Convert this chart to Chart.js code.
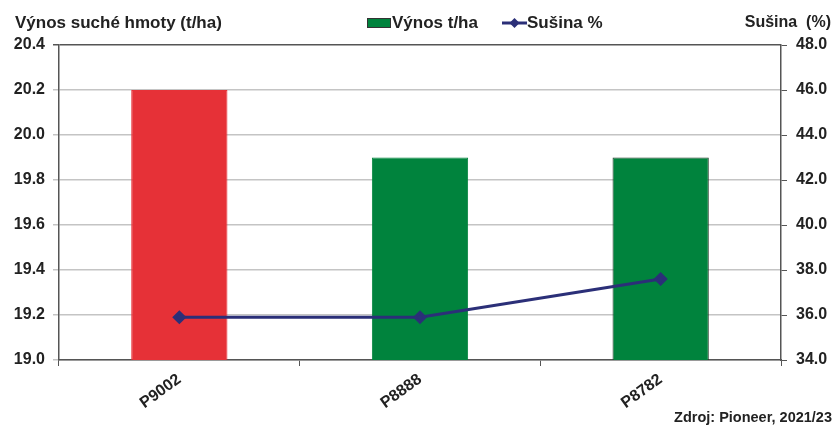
<!DOCTYPE html>
<html>
<head>
<meta charset="utf-8">
<script src="https://cdn.jsdelivr.net/npm/chart.js@4.4.0/dist/chart.umd.min.js"></script>
<style>
  html, body { margin: 0; padding: 0; background: #fff; }
  #wrap { width: 835px; height: 427px; }
</style>
</head>
<body>
<div id="wrap"><canvas id="chartOne" width="835" height="427"></canvas></div>
<script>
const hybrids = ['P9002', 'P8888', 'P8782'];
const yieldValues = [20.2, 19.9, 19.9];
const dryMatter = [35.9, 35.9, 37.6];
const barColors = ['#E63137', '#00833D', '#00833D'];
const barBorders = ['#E63137', '#00833D', '#1f3a26'];

const FONT = 'Liberation Sans, Arial, sans-serif';
const TEXT = '#222222';

// titles, legend and source line
const extras = {
    id: 'extras',
    afterDraw(chart) {
        const c = chart.ctx;
        c.save();
        c.fillStyle = TEXT;
        c.textBaseline = 'middle';
        c.font = 'bold 17px ' + FONT;
        c.textAlign = 'left';
        c.fillText('Výnos suché hmoty (t/ha)', 15, 23);
        c.textAlign = 'right';
        c.font = 'bold 16px ' + FONT;
        c.fillText('Sušina  (%)', 831, 23);

        // legend
        c.fillStyle = '#00833D';
        c.fillRect(367, 18, 24, 10);
        c.strokeStyle = '#333';
        c.lineWidth = 1;
        c.strokeRect(367.5, 18.5, 23, 9);
        c.fillStyle = TEXT;
        c.textAlign = 'left';
        c.font = 'bold 17px ' + FONT;
        c.fillText('Výnos t/ha', 392, 23);

        c.strokeStyle = '#2B2F78';
        c.lineWidth = 3;
        c.beginPath();
        c.moveTo(502, 23);
        c.lineTo(527, 23);
        c.stroke();
        c.fillStyle = '#2B2F78';
        c.beginPath();
        c.moveTo(514.5, 18);
        c.lineTo(519.5, 23);
        c.lineTo(514.5, 28);
        c.lineTo(509.5, 23);
        c.closePath();
        c.fill();
        c.fillStyle = TEXT;
        c.fillText('Sušina %', 527, 23);

        c.font = 'bold 14.5px ' + FONT;
        c.textAlign = 'right';
        c.fillText('Zdroj: Pioneer, 2021/23', 832, 418);
        c.restore();
    }
};

new Chart(document.getElementById('chartOne').getContext('2d'), {
    data: {
        labels: hybrids,
        datasets: [{
            type: 'line',
            label: 'Sušina %',
            data: dryMatter,
            yAxisID: 'y2',
            borderColor: '#2B2F78',
            backgroundColor: '#2B2F78',
            borderWidth: 3,
            pointStyle: 'rectRot',
            pointRadius: 5,
            order: 0
        }, {
            type: 'bar',
            label: 'Výnos t/ha',
            data: yieldValues,
            yAxisID: 'y',
            backgroundColor: barColors,
            borderColor: barBorders,
            borderWidth: 1,
            barPercentage: 0.8,
            categoryPercentage: 0.5,
            order: 1
        }]
    },
    options: {
        responsive: false,
        animation: false,
        layout: { padding: { top: 45, left: 0, right: 0, bottom: 0 } },
        plugins: {
            legend: { display: false },
            tooltip: { enabled: false }
        },
        scales: {
            x: {
                offset: true,
                afterFit: (s) => { s.height = 67; },
                grid: { drawOnChartArea: false, tickLength: 6, color: '#555', offset: true },
                border: { color: '#555', width: 1.5 },
                ticks: {
                    minRotation: 36, maxRotation: 36, padding: 4,
                    color: TEXT, font: { family: FONT, size: 16, weight: 'bold' }
                }
            },
            y: {
                position: 'left',
                min: 19.0, max: 20.4,
                afterFit: (s) => { s.width = 59; },
                grid: {
                    color: (ctx) => ctx.index === 7 ? '#555' : '#c4c4c4',
                    lineWidth: 1.5,
                    tickLength: 6
                },
                border: { color: '#555', width: 1.5 },
                ticks: {
                    stepSize: 0.2, padding: 8, color: TEXT,
                    font: { family: FONT, size: 16, weight: 'bold' },
                    callback: (v) => Number(v).toFixed(1)
                }
            },
            y2: {
                position: 'right',
                min: 34, max: 48,
                afterFit: (s) => { s.width = 54; },
                grid: { drawOnChartArea: false, color: '#555', tickLength: 6 },
                border: { color: '#555', width: 1.5 },
                ticks: {
                    stepSize: 2, padding: 9, color: TEXT,
                    font: { family: FONT, size: 16, weight: 'bold' },
                    callback: (v) => Number(v).toFixed(1)
                }
            }
        }
    },
    plugins: [extras]
});
</script>
</body>
</html>
